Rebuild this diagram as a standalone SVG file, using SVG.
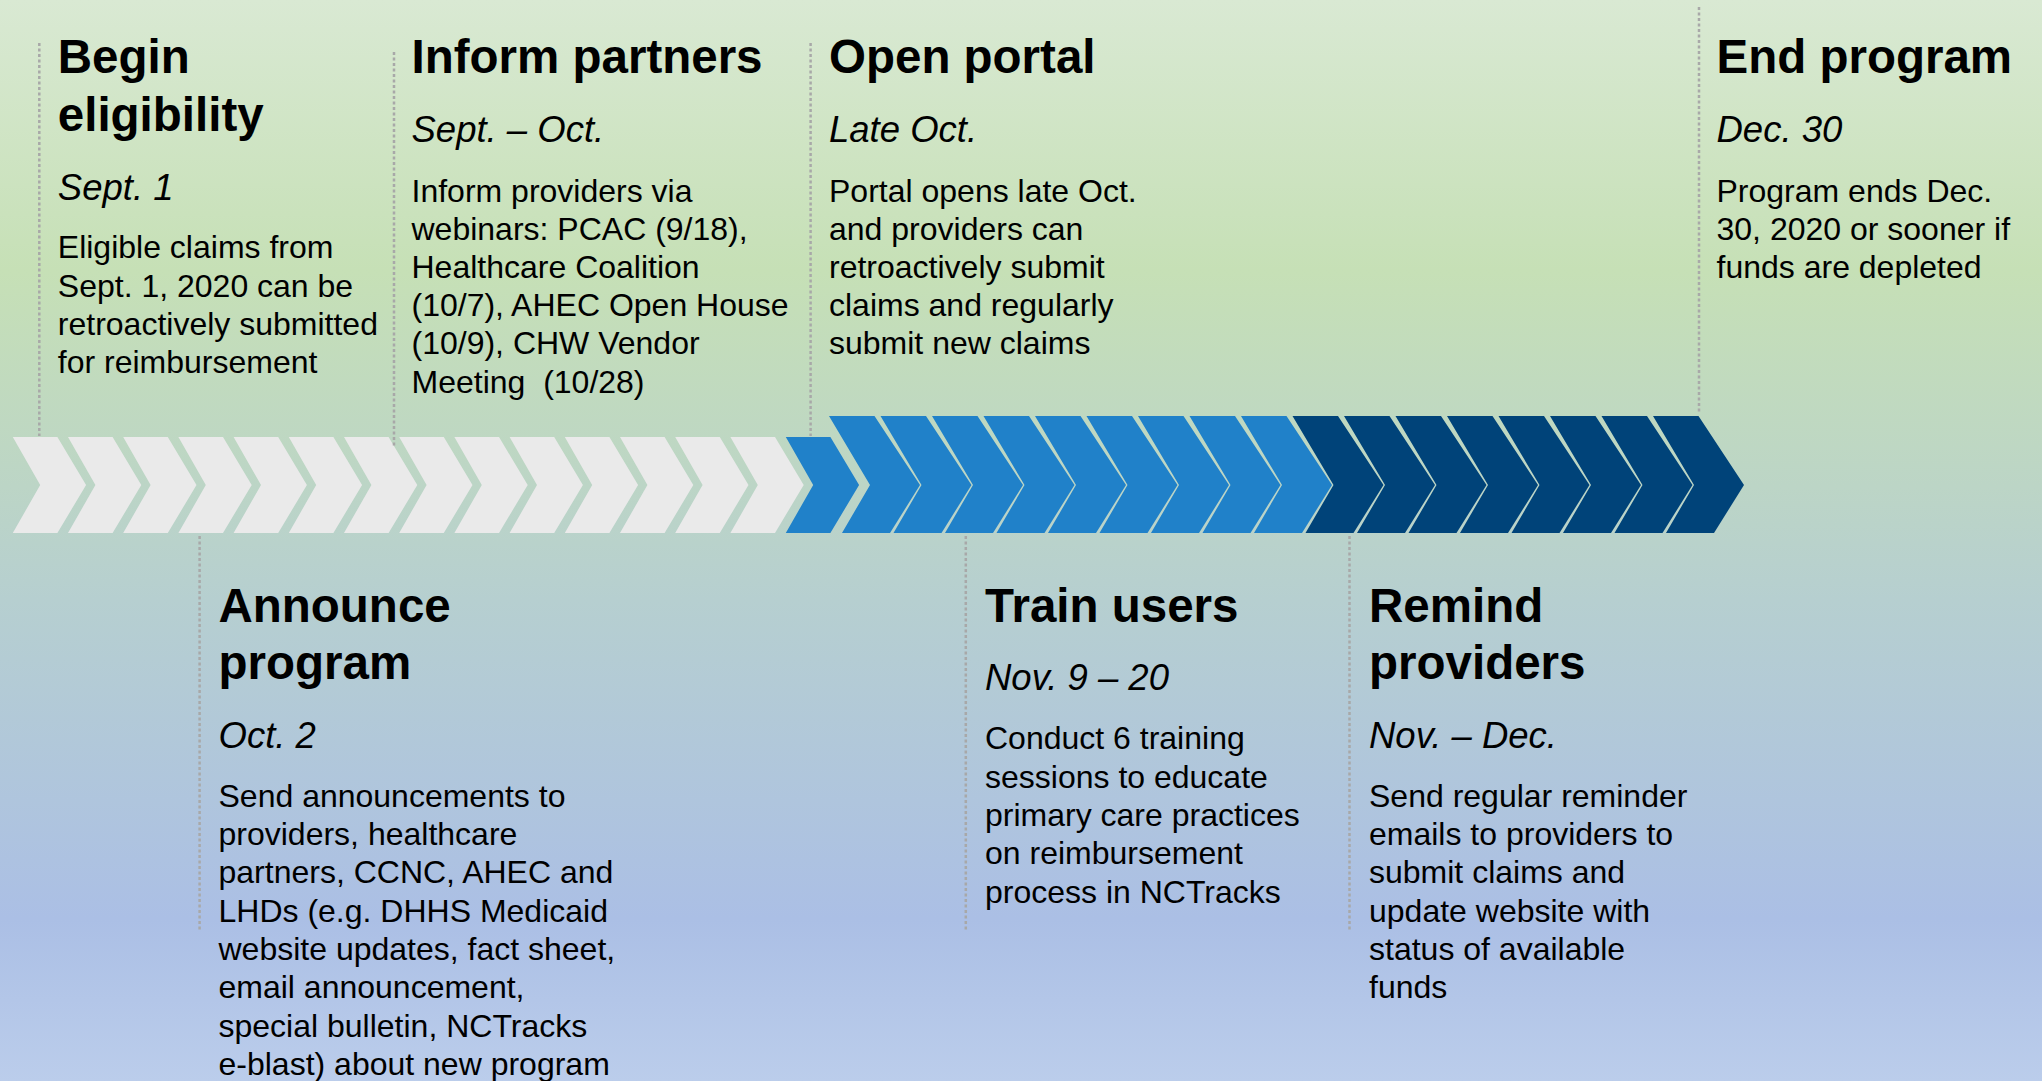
<svg xmlns="http://www.w3.org/2000/svg" xmlns:xlink="http://www.w3.org/1999/xlink" width="2042" height="1081" viewBox="0 0 2042 1081">
<defs>
<linearGradient id="bg" x1="0" y1="0" x2="0" y2="1">
<stop offset="0" stop-color="#D9E9D3"/>
<stop offset="0.25" stop-color="#C6E0B6"/>
<stop offset="0.45" stop-color="#BCD5C6"/>
<stop offset="0.555" stop-color="#B6CFD0"/>
<stop offset="0.85" stop-color="#ABBFE5"/>
<stop offset="1" stop-color="#BBCDEB"/>
</linearGradient>
<polygon id="short" points="0,437 44.6,437 73.3,485 44.6,533 0,533 27.4,485"/>
<polygon id="tall" points="0,416 45.5,416 91,485 61,533 13,533 41,485"/>
<style>
.lt{fill:#EAEAEA}
.md{fill:#2081C9}
.dk{fill:#004379}
.lead{stroke:#A8A8A8;stroke-width:2.5;stroke-dasharray:3 2.5;fill:none}
text{font-family:"Liberation Sans",Arial,sans-serif;fill:#000}
.t{font-size:47.5px;font-weight:bold}
.d{font-size:36.5px;font-style:italic}
.b{font-size:32px;white-space:pre}
</style>
</defs>
<rect x="0" y="0" width="2042" height="1081" fill="url(#bg)"/>
<g id="timeline">
<use xlink:href="#short" class="lt" x="12.8"/>
<use xlink:href="#short" class="lt" x="68"/>
<use xlink:href="#short" class="lt" x="123.2"/>
<use xlink:href="#short" class="lt" x="178.4"/>
<use xlink:href="#short" class="lt" x="233.6"/>
<use xlink:href="#short" class="lt" x="288.8"/>
<use xlink:href="#short" class="lt" x="344"/>
<use xlink:href="#short" class="lt" x="399.2"/>
<use xlink:href="#short" class="lt" x="454.4"/>
<use xlink:href="#short" class="lt" x="509.6"/>
<use xlink:href="#short" class="lt" x="564.8"/>
<use xlink:href="#short" class="lt" x="620"/>
<use xlink:href="#short" class="lt" x="675.2"/>
<use xlink:href="#short" class="lt" x="730.4"/>
<use xlink:href="#short" class="md" x="785.8"/>
<use xlink:href="#tall" class="md" x="829"/>
<use xlink:href="#tall" class="md" x="880.5"/>
<use xlink:href="#tall" class="md" x="932"/>
<use xlink:href="#tall" class="md" x="983.5"/>
<use xlink:href="#tall" class="md" x="1035"/>
<use xlink:href="#tall" class="md" x="1086.5"/>
<use xlink:href="#tall" class="md" x="1138"/>
<use xlink:href="#tall" class="md" x="1189.5"/>
<use xlink:href="#tall" class="md" x="1241"/>
<use xlink:href="#tall" class="dk" x="1292.5"/>
<use xlink:href="#tall" class="dk" x="1344"/>
<use xlink:href="#tall" class="dk" x="1395.5"/>
<use xlink:href="#tall" class="dk" x="1447"/>
<use xlink:href="#tall" class="dk" x="1498.5"/>
<use xlink:href="#tall" class="dk" x="1550"/>
<use xlink:href="#tall" class="dk" x="1601.5"/>
<use xlink:href="#tall" class="dk" x="1653"/>
</g>
<g id="connectors">
<line class="lead" x1="39.3" y1="43" x2="39.3" y2="436"/>
<line class="lead" x1="394" y1="52" x2="394" y2="446"/>
<line class="lead" x1="810.6" y1="43" x2="810.6" y2="436"/>
<line class="lead" x1="1699" y1="7" x2="1699" y2="413"/>
<line class="lead" x1="199.6" y1="536" x2="199.6" y2="930"/>
<line class="lead" x1="965.8" y1="536" x2="965.8" y2="930"/>
<line class="lead" x1="1349.5" y1="536" x2="1349.5" y2="930"/>
</g>
<g id="begin-eligibility">
<text class="t" x="57.8" y="73.3">Begin</text>
<text class="t" x="57.8" y="130.5">eligibility</text>
<text class="d" x="57.8" y="200">Sept. 1</text>
<text class="b" x="57.8" y="258.3">Eligible claims from</text>
<text class="b" x="57.8" y="296.5">Sept. 1, 2020 can be</text>
<text class="b" x="57.8" y="334.7">retroactively submitted</text>
<text class="b" x="57.8" y="372.9">for reimbursement</text>
</g>
<g id="inform-partners">
<text class="t" x="411.5" y="73.3">Inform partners</text>
<text class="d" x="411.5" y="142">Sept. – Oct.</text>
<text class="b" x="411.5" y="201.5">Inform providers via</text>
<text class="b" x="411.5" y="239.7">webinars: PCAC (9/18),</text>
<text class="b" x="411.5" y="277.9">Healthcare Coalition</text>
<text class="b" x="411.5" y="316.1">(10/7), AHEC Open House</text>
<text class="b" x="411.5" y="354.3">(10/9), CHW Vendor</text>
<text class="b" x="411.5" y="392.5">Meeting  (10/28)</text>
</g>
<g id="open-portal">
<text class="t" x="829" y="73.3">Open portal</text>
<text class="d" x="829" y="142">Late Oct.</text>
<text class="b" x="829" y="201.5">Portal opens late Oct.</text>
<text class="b" x="829" y="239.7">and providers can</text>
<text class="b" x="829" y="277.9">retroactively submit</text>
<text class="b" x="829" y="316.1">claims and regularly</text>
<text class="b" x="829" y="354.3">submit new claims</text>
</g>
<g id="end-program">
<text class="t" x="1716.5" y="73.3">End program</text>
<text class="d" x="1716.5" y="142">Dec. 30</text>
<text class="b" x="1716.5" y="201.5">Program ends Dec.</text>
<text class="b" x="1716.5" y="239.7">30, 2020 or sooner if</text>
<text class="b" x="1716.5" y="277.9">funds are depleted</text>
</g>
<g id="announce-program">
<text class="t" x="218.5" y="621.7">Announce</text>
<text class="t" x="218.5" y="678.5">program</text>
<text class="d" x="218.5" y="748.3">Oct. 2</text>
<text class="b" x="218.5" y="806.7">Send announcements to</text>
<text class="b" x="218.5" y="845">providers, healthcare</text>
<text class="b" x="218.5" y="883.3">partners, CCNC, AHEC and</text>
<text class="b" x="218.5" y="921.6">LHDs (e.g. DHHS Medicaid</text>
<text class="b" x="218.5" y="959.9">website updates, fact sheet,</text>
<text class="b" x="218.5" y="998.2">email announcement,</text>
<text class="b" x="218.5" y="1036.5">special bulletin, NCTracks</text>
<text class="b" x="218.5" y="1074.8">e-blast) about new program</text>
</g>
<g id="train-users">
<text class="t" x="985" y="621.7">Train users</text>
<text class="d" x="985" y="689.5">Nov. 9 – 20</text>
<text class="b" x="985" y="749.3">Conduct 6 training</text>
<text class="b" x="985" y="787.6">sessions to educate</text>
<text class="b" x="985" y="825.9">primary care practices</text>
<text class="b" x="985" y="864.2">on reimbursement</text>
<text class="b" x="985" y="902.5">process in NCTracks</text>
</g>
<g id="remind-providers">
<text class="t" x="1369" y="621.7">Remind</text>
<text class="t" x="1369" y="678.5">providers</text>
<text class="d" x="1369" y="748.3">Nov. – Dec.</text>
<text class="b" x="1369" y="806.7">Send regular reminder</text>
<text class="b" x="1369" y="845">emails to providers to</text>
<text class="b" x="1369" y="883.3">submit claims and</text>
<text class="b" x="1369" y="921.6">update website with</text>
<text class="b" x="1369" y="959.9">status of available</text>
<text class="b" x="1369" y="998.2">funds</text>
</g>
</svg>
